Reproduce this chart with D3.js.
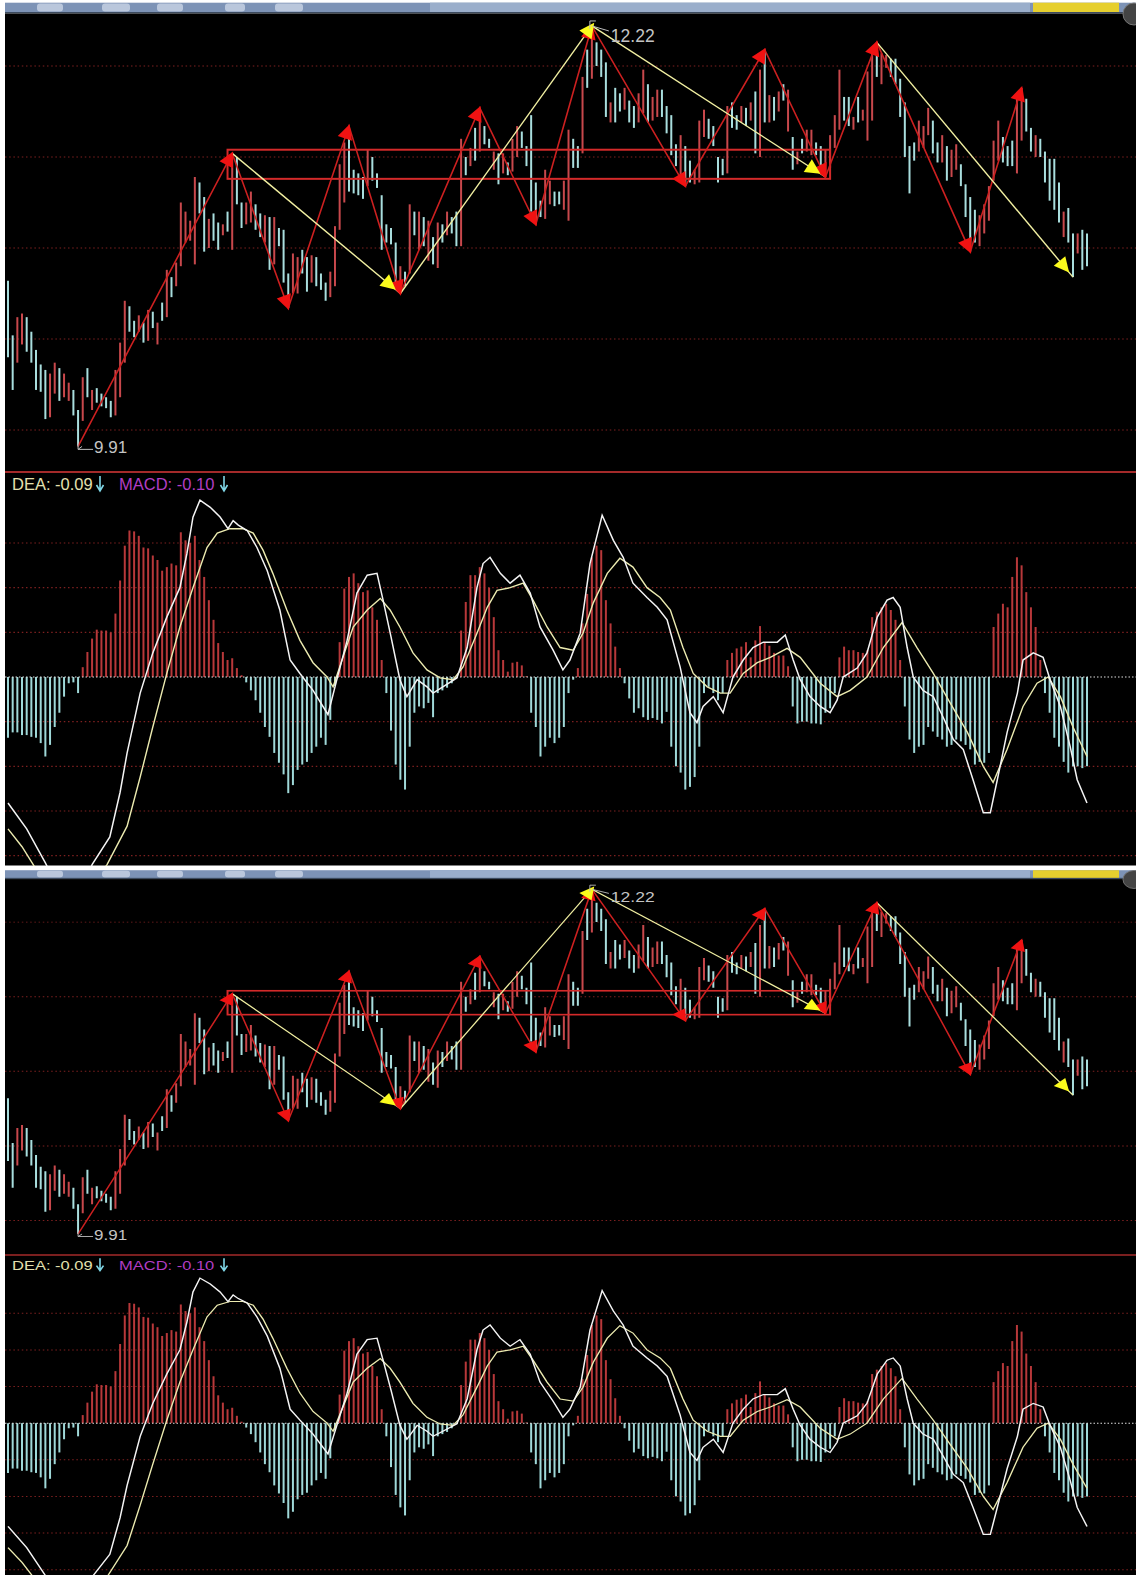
<!DOCTYPE html>
<html>
<head>
<meta charset="utf-8">
<script src="https://cdn.jsdelivr.net/npm/d3@7"></script>
<style>
  body { margin: 0; background: #fff; }
  svg { display: block; }
</style>
</head>
<body>
<svg id="chart" width="1136" height="1575"></svg>
<script>
// price bars: high / low / up(1 = red, 0 = cyan)
const barHigh = [
  10.82,10.52,10.62,10.64,10.62,10.54,10.44,10.36,10.33,10.31,10.37,10.34,10.31,10.26,10.22,10.11,10.29,10.34,10.22,10.23,
  10.20,10.18,10.16,10.33,10.48,10.71,10.68,10.60,10.63,10.59,10.66,10.65,10.59,10.70,10.88,10.84,10.92,11.25,11.20,11.15,
  11.39,11.36,11.28,11.16,11.19,11.14,11.13,11.20,11.52,11.50,11.25,11.25,11.31,11.24,11.19,11.18,11.17,11.17,11.11,11.10,
  10.86,10.97,10.95,10.99,10.95,10.96,10.95,10.86,10.81,10.87,11.12,11.46,11.58,11.67,11.43,11.41,11.39,11.54,11.50,11.41,
  11.29,11.13,11.11,11.03,10.90,10.87,11.24,11.20,11.20,11.17,11.15,11.06,11.14,11.13,11.20,11.17,11.20,11.60,11.50,11.55,
  11.66,11.77,11.67,11.60,11.53,11.52,11.52,11.47,11.60,11.67,11.64,11.56,11.73,11.36,11.26,11.43,11.37,11.31,11.31,11.37,
  11.65,11.60,11.56,11.94,12.09,12.22,12.13,12.09,12.02,11.80,11.88,11.85,11.88,11.81,11.78,11.85,11.98,11.90,11.83,11.87,
  11.87,11.78,11.73,11.57,11.62,11.56,11.48,11.43,11.70,11.76,11.71,11.67,11.50,11.49,11.78,11.80,11.73,11.78,11.77,11.80,
  11.86,11.98,12.09,11.84,11.83,11.86,11.90,11.87,11.61,11.53,11.60,11.65,11.65,11.58,11.56,11.54,11.62,11.73,11.98,11.83,
  11.83,11.72,11.83,11.76,11.97,12.09,12.13,12.07,12.06,12.04,12.04,11.93,11.80,11.56,11.58,11.70,11.67,11.77,11.70,11.58,
  11.62,11.56,11.54,11.57,11.46,11.35,11.28,11.21,11.18,11.24,11.34,11.59,11.70,11.61,11.56,11.59,11.83,11.88,11.82,11.66,
  11.62,11.60,11.53,11.49,11.49,11.36,11.20,11.22,11.08,11.08,11.10,11.08
];
const barLow = [
  10.40,10.22,10.37,10.47,10.43,10.37,10.22,10.21,10.06,10.07,10.20,10.16,10.18,10.16,10.08,9.91,10.05,10.18,10.11,10.15,
  10.13,10.12,10.07,10.08,10.18,10.37,10.54,10.51,10.54,10.48,10.49,10.56,10.47,10.60,10.62,10.73,10.79,10.90,11.03,11.04,
  10.91,11.19,10.98,11.00,11.04,10.99,11.07,11.09,10.99,11.24,11.11,11.13,11.14,11.10,11.06,11.03,10.88,10.91,11.01,10.81,
  10.67,10.75,10.75,10.86,10.76,10.81,10.79,10.77,10.71,10.73,10.79,11.10,11.25,11.31,11.30,11.29,11.27,11.34,11.37,11.33,
  10.99,11.03,11.02,10.79,10.75,10.79,10.86,11.07,10.99,11.01,10.93,10.91,10.89,11.03,11.07,11.08,11.01,11.01,11.40,11.45,
  11.48,11.53,11.57,11.55,11.43,11.35,11.41,11.40,11.42,11.50,11.55,11.45,11.20,11.13,11.17,11.16,11.24,11.23,11.24,11.21,
  11.15,11.44,11.44,11.52,11.88,11.93,12.00,11.94,11.72,11.69,11.69,11.75,11.76,11.69,11.66,11.69,11.74,11.69,11.70,11.72,
  11.72,11.63,11.51,11.45,11.40,11.34,11.36,11.35,11.36,11.61,11.60,11.56,11.36,11.40,11.41,11.66,11.65,11.69,11.67,11.70,
  11.52,11.50,11.69,11.69,11.70,11.75,11.81,11.64,11.43,11.46,11.52,11.53,11.51,11.51,11.45,11.39,11.44,11.55,11.65,11.70,
  11.67,11.65,11.69,11.70,11.59,11.70,11.94,11.90,11.99,11.94,11.90,11.72,11.50,11.30,11.48,11.53,11.55,11.62,11.52,11.47,
  11.47,11.37,11.39,11.43,11.34,11.17,10.98,11.03,11.01,11.08,11.15,11.37,11.48,11.47,11.45,11.45,11.41,11.59,11.64,11.53,
  11.50,11.50,11.36,11.26,11.21,11.14,11.06,11.03,10.84,10.97,10.88,10.90
];
const barUp = [
  0,0,1,1,0,0,0,0,0,1,1,0,1,1,0,0,1,0,1,0,
  0,0,0,1,1,1,0,0,1,0,1,0,1,0,1,0,1,1,1,1,
  1,0,0,1,0,0,1,0,1,0,0,1,1,0,0,1,0,1,0,0,
  0,1,1,0,0,1,0,0,0,1,1,1,1,0,0,0,0,1,0,0,
  0,0,0,0,1,0,1,0,1,0,1,0,1,0,1,0,0,1,0,1,
  0,1,0,0,1,0,1,0,1,1,0,0,0,0,0,1,1,0,0,1,
  1,0,0,1,0,1,0,0,0,1,0,0,1,0,0,1,1,0,1,1,
  0,0,0,0,1,0,0,1,1,1,0,0,0,0,1,0,0,1,0,1,
  0,1,0,1,0,1,0,1,0,1,0,1,1,0,0,1,1,1,1,0,
  0,1,0,1,1,1,0,1,1,0,0,0,0,0,0,1,1,1,0,0,
  1,0,1,1,0,0,0,0,1,1,1,1,1,0,0,0,1,1,0,0,
  1,0,0,0,0,0,1,0,0,1,0,0
];

// MACD histogram per bar
const macdHist = [
  -0.068,-0.062,-0.062,-0.065,-0.065,-0.067,-0.068,-0.074,-0.089,-0.076,-0.056,-0.040,-0.022,-0.007,-0.006,-0.018,
  0.011,0.028,0.043,0.053,0.052,0.052,0.050,0.071,0.108,0.147,0.164,0.163,0.158,0.145,0.144,0.136,0.131,0.119,0.123,
  0.127,0.125,0.162,0.153,0.150,0.158,0.131,0.112,0.086,0.064,0.038,0.028,0.019,0.021,0.010,0.002,
  -0.006,-0.015,-0.026,-0.040,-0.056,-0.067,-0.085,-0.096,-0.109,-0.130,-0.121,-0.104,-0.098,-0.095,-0.085,-0.078,
  -0.068,-0.076,-0.048,-0.010,
  0.039,0.099,0.112,0.116,0.105,0.095,0.097,0.078,0.064,0.019,
  -0.018,-0.060,-0.098,-0.115,-0.126,-0.078,-0.040,-0.033,-0.035,-0.029,-0.045,-0.018,-0.015,-0.012,-0.007,-0.001,
  0.052,0.084,0.114,0.114,0.123,0.116,0.100,0.067,0.030,0.019,0.006,0.016,0.017,0.013,0.001,
  -0.040,-0.056,-0.089,-0.078,-0.068,-0.074,-0.068,-0.056,-0.018,-0.003,
  0.010,0.060,0.093,0.134,0.147,0.142,0.086,0.060,0.034,0.010,
  -0.007,-0.024,-0.040,-0.035,-0.045,-0.048,-0.046,-0.048,-0.052,-0.039,-0.078,-0.100,-0.107,-0.126,-0.123,-0.112,
  -0.078,-0.018,-0.011,-0.018,-0.026,-0.018,
  0.019,0.027,0.032,0.034,0.039,0.022,0.041,0.057,0.039,0.035,0.027,0.024,0.024,0.012,
  -0.033,-0.052,-0.050,-0.050,-0.052,-0.052,-0.053,-0.040,-0.035,-0.018,
  0.022,0.034,0.030,0.030,0.028,0.027,0.030,0.067,0.073,0.078,0.082,0.075,0.064,0.019,
  -0.033,-0.070,-0.085,-0.078,-0.076,-0.056,-0.061,-0.067,-0.070,-0.078,-0.076,-0.070,-0.072,-0.076,-0.081,-0.098,
  -0.095,-0.096,-0.085,
  0.056,0.071,0.082,0.078,0.112,0.134,0.125,0.095,0.078,0.056,0.019,
  -0.018,-0.040,-0.068,-0.078,-0.095,-0.107,-0.100,-0.100,-0.102,-0.100
];

// DIF (white) and DEA (yellow) lines: [bar index, value]
const difLine = [
  [0,-0.141],[4,-0.170],[8,-0.208],[12,-0.250],[16,-0.235],[18,-0.210],[21.8,-0.179],[24,-0.129],[25.5,-0.085],
  [28.3,-0.018],[31,0.027],[34,0.067],[36.8,0.100],[38.3,0.138],[39.6,0.179],[41.1,0.198],[43.3,0.190],[45.4,0.179],
  [47.1,0.166],[48.2,0.175],[49.3,0.170],[51.2,0.164],[53.3,0.145],[55.5,0.119],[58.2,0.075],[60.4,0.019],[62.5,0.004],
  [65.3,-0.015],[68.5,-0.042],[70.4,-0.003],[72.6,0.041],[74.7,0.094],[76.9,0.114],[79,0.116],[80.3,0.086],[82,0.045],
  [83.9,-0.003],[85.4,-0.022],[87.6,-0.003],[89.7,-0.011],[91,-0.018],[93.1,-0.011],[96.1,-0.001],[98.3,0.033],
  [100.4,0.100],[101.7,0.127],[103.2,0.134],[105.4,0.116],[107.5,0.105],[109.6,0.114],[111.8,0.094],[113.9,0.056],
  [116.7,0.030],[118.8,0.008],[120.3,0.019],[122.5,0.049],[124.6,0.127],[127.2,0.181],[129.6,0.153],[131.7,0.134],
  [133.8,0.105],[136.8,0.089],[139,0.078],[141.1,0.064],[143.9,0.011],[146,-0.040],[147.5,-0.051],[148.8,-0.033],
  [151,-0.022],[153.1,-0.040],[155.2,0],[157.4,0.019],[159.5,0.033],[161.7,0.039],[164.7,0.039],[166.4,0.047],
  [168.1,0.019],[169.6,-0.003],[171.7,-0.022],[173.9,-0.033],[176,-0.040],[177.5,-0.026],[178.8,0],[181.8,0.010],
  [183.9,0.027],[186.1,0.067],[188.2,0.086],[189.5,0.089],[191,0.078],[192.5,0.033],[193.8,0],[195.9,-0.015],
  [198.1,-0.022],[200.2,-0.045],[202.4,-0.070],[204.5,-0.081],[206.6,-0.115],[208.8,-0.152],[210.3,-0.152],
  [211.8,-0.115],[213.9,-0.062],[216.1,-0.018],[217.3,0.019],[219.5,0.027],[221.6,0.022],[223.1,-0.003],
  [225.3,-0.033],[227.4,-0.078],[228.9,-0.115],[231,-0.141]
];
const deaLine = [
  [0,-0.170],[3,-0.190],[6,-0.215],[11,-0.250],[17,-0.240],[21.2,-0.210],[25.5,-0.167],[28.3,-0.112],[31,-0.056],
  [34,0.004],[36.8,0.056],[39.6,0.100],[42.6,0.145],[44.8,0.161],[47.5,0.166],[50.3,0.166],[52.5,0.161],[54.6,0.142],
  [56.7,0.116],[59.7,0.075],[62.5,0.041],[65.3,0.016],[68.3,0],[69.6,-0.011],[71.7,0.022],[73.9,0.056],[76.9,0.075],
  [79.7,0.088],[81.8,0.075],[83.9,0.056],[86.7,0.027],[89.7,0.008],[92.5,-0.001],[95.3,-0.003],[97.4,0.011],
  [100.4,0.049],[102.6,0.078],[104.7,0.097],[107.5,0.100],[110.3,0.105],[112.4,0.086],[115.4,0.056],[118.2,0.033],
  [121,0.030],[123.1,0.049],[125.3,0.083],[128.3,0.116],[131,0.133],[133.8,0.123],[136.8,0.100],[139.6,0.089],
  [141.8,0.075],[144.5,0.033],[146.7,0.004],[149.7,-0.011],[152.5,-0.018],[154.6,-0.018],[157.4,0.004],[160.4,0.016],
  [163.2,0.022],[166.8,0.032],[169.6,0.022],[173.9,-0.007],[177.5,-0.022],[180.3,-0.015],[183.9,0],[187.4,0.033],
  [191.4,0.061],[194.6,0.033],[198.1,0.004],[201.7,-0.029],[205.4,-0.062],[208.8,-0.100],[210.9,-0.118],
  [213.9,-0.081],[217.3,-0.033],[220.3,-0.007],[222.7,0],[225.3,-0.022],[228,-0.056],[231,-0.089]
];

// zigzag turning bars (first one is a low, then alternating)
const redTurns = [15, 48, 60, 73, 84, 101, 113, 125, 145, 162, 175, 186, 206, 217];
// yellow legs: [from bar, to bar, direction]
const yellowLegs = [[48, 84, 'down'], [84, 125, 'up'], [125, 175, 'down'], [186, 228, 'down']];
// the box: bar span and price span
const boxBars = [47, 176], boxPrices = [11.54, 11.38];

const priceTicks = [10, 10.5, 11, 11.5, 12];
const macdTicks = [-0.2, -0.15, -0.1, -0.05, 0.05, 0.1, 0.15];
const labelHighBar = 125, labelLowBar = 15;
const headerDEA = '-0.09', headerMACD = '-0.10';

const x = d3.scaleLinear().domain([0, barHigh.length - 1]).range([8, 1087]);
const yP = d3.scaleLinear().domain([10, 12]).range([430, 66]);
const yM = d3.scaleLinear().domain([0, 0.15]).range([677, 543]);

const svg = d3.select('#chart');

function arrowHead(g, x1, y1, x2, y2, fill, back) {
  let a = Math.atan2(y2 - y1, x2 - x1), L = 15, W = 7.5;
  let tx = x2 - Math.cos(a) * back, ty = y2 - Math.sin(a) * back;
  let bx = tx - Math.cos(a) * L, by = ty - Math.sin(a) * L;
  let px = -Math.sin(a) * W, py = Math.cos(a) * W;
  g.append('path')
    .attr('d', `M${tx},${ty}L${bx + px},${by + py}L${bx - px},${by - py}Z`)
    .attr('fill', fill);
}

function drawPanel(root, id) {

  // toolbar strip on top
  root.append('rect').attr('x', 5).attr('y', 2.7).attr('width', 1131).attr('height', 9.5).attr('fill', '#7d93b6');
  root.append('rect').attr('x', 430).attr('y', 2.7).attr('width', 600).attr('height', 9.5).attr('fill', '#9aaecb');
  [[37, 26], [102, 28], [157, 26], [225, 20], [275, 28]].forEach(d => {
    root.append('rect').attr('x', d[0]).attr('y', 3.5).attr('width', d[1]).attr('height', 8).attr('rx', 3)
      .attr('fill', '#c9d5e6').attr('opacity', 0.8);
  });
  root.append('rect').attr('x', 1033).attr('y', 2.7).attr('width', 86).attr('height', 9.5).attr('fill', '#e6cf2e');
  root.append('rect').attr('x', 5).attr('y', 12).attr('width', 1131).attr('height', 1.5).attr('fill', '#3c4a5e');

  // black chart area
  root.append('rect').attr('x', 5).attr('y', 13.5).attr('width', 1131).attr('height', 852).attr('fill', '#000');
  root.append('circle').attr('cx', 1134).attr('cy', 14).attr('r', 11).attr('fill', '#444').attr('stroke', '#777');

  let defs = root.append('defs');
  defs.append('clipPath').attr('id', 'pc' + id).append('rect')
    .attr('x', 5).attr('y', 14).attr('width', 1131).attr('height', 457);
  defs.append('clipPath').attr('id', 'mc' + id).append('rect')
    .attr('x', 5).attr('y', 473).attr('width', 1131).attr('height', 393);

  // ---------- price part ----------
  let pg = root.append('g').attr('clip-path', `url(#pc${id})`);

  pg.selectAll('line.pgrid').data(priceTicks).join('line').attr('class', 'pgrid')
    .attr('x1', 5).attr('x2', 1136).attr('y1', d => yP(d)).attr('y2', d => yP(d))
    .attr('stroke', '#7e2020').attr('stroke-width', 1.2).attr('stroke-dasharray', '1.5,2.7');

  pg.selectAll('line.bar').data(barHigh).join('line').attr('class', 'bar')
    .attr('x1', (d, i) => x(i)).attr('x2', (d, i) => x(i))
    .attr('y1', d => yP(d)).attr('y2', (d, i) => yP(barLow[i]))
    .attr('stroke', (d, i) => barUp[i] ? '#c8484c' : '#a9dede')
    .attr('stroke-width', 2);

  // box
  pg.append('rect')
    .attr('x', x(boxBars[0])).attr('y', yP(boxPrices[0]))
    .attr('width', x(boxBars[1]) - x(boxBars[0])).attr('height', yP(boxPrices[1]) - yP(boxPrices[0]))
    .attr('fill', 'none').attr('stroke', '#d42a2a').attr('stroke-width', 2);

  // red zigzag
  let redPts = redTurns.map((b, k) => [x(b), yP(k % 2 === 0 ? barLow[b] : barHigh[b])]);
  pg.append('path').attr('d', d3.line()(redPts))
    .attr('fill', 'none').attr('stroke', '#cc2020').attr('stroke-width', 1.6);

  // yellow legs
  let yLegs = yellowLegs.map(l => {
    let p0 = l[2] === 'down' ? barHigh[l[0]] : barLow[l[0]];
    let p1 = l[2] === 'down' ? barLow[l[1]] : barHigh[l[1]];
    return [[x(l[0]), yP(p0)], [x(l[1]), yP(p1)]];
  });
  yLegs.forEach(s => {
    pg.append('path').attr('d', d3.line()(s))
      .attr('fill', 'none').attr('stroke', '#f2f0a2').attr('stroke-width', 1.4);
  });

  for (let k = 1; k < redPts.length; k++) {
    arrowHead(pg, redPts[k - 1][0], redPts[k - 1][1], redPts[k][0], redPts[k][1], '#f01212', -2);
  }
  yLegs.forEach((s, k) => arrowHead(pg, s[0][0], s[0][1], s[1][0], s[1][1], '#fbfb1c', k === 1 ? -4 : 6));

  // high / low labels
  let hx = x(labelHighBar), hy = yP(barHigh[labelHighBar]);
  pg.append('path').attr('d', `M${hx - 2},${hy - 5}L${hx - 2},${hy + 3}M${hx - 2},${hy - 5}L${hx + 4},${hy - 5}M${hx},${hy}L${hx + 17},${hy + 5}`)
    .attr('stroke', '#bcbcbc').attr('stroke-width', 1).attr('fill', 'none');
  pg.append('text').attr('x', hx + 19).attr('y', hy + 16).text(barHigh[labelHighBar].toFixed(2))
    .attr('fill', '#c4c4c4').attr('font-family', 'Liberation Sans, Arial, sans-serif').attr('font-size', 17.5);

  let lx = x(labelLowBar), ly = yP(barLow[labelLowBar]);
  pg.append('path').attr('d', `M${lx},${ly - 4}L${lx},${ly + 3}L${lx + 15},${ly + 3}M${lx},${ly + 3}L${lx + 4},${ly}`)
    .attr('stroke', '#bcbcbc').attr('stroke-width', 1).attr('fill', 'none');
  pg.append('text').attr('x', lx + 16).attr('y', ly + 7).text(barLow[labelLowBar].toFixed(2))
    .attr('fill', '#c4c4c4').attr('font-family', 'Liberation Sans, Arial, sans-serif').attr('font-size', 17);

  // divider
  root.append('line').attr('x1', 5).attr('x2', 1136).attr('y1', 472).attr('y2', 472)
    .attr('stroke', '#a42a2a').attr('stroke-width', 2);

  // ---------- MACD part ----------
  let mg = root.append('g').attr('clip-path', `url(#mc${id})`);

  mg.selectAll('line.mgrid').data(macdTicks).join('line').attr('class', 'mgrid')
    .attr('x1', 5).attr('x2', 1136).attr('y1', d => yM(d)).attr('y2', d => yM(d))
    .attr('stroke', '#7e2020').attr('stroke-width', 1.2).attr('stroke-dasharray', '1.5,2.7');

  mg.selectAll('line.hist').data(macdHist).join('line').attr('class', 'hist')
    .attr('x1', (d, i) => x(i)).attr('x2', (d, i) => x(i))
    .attr('y1', yM(0)).attr('y2', d => yM(d))
    .attr('stroke', d => d >= 0 ? '#b8383a' : '#9fd8d8')
    .attr('stroke-width', 2);

  mg.append('line').attr('x1', 5).attr('x2', 1136).attr('y1', yM(0)).attr('y2', yM(0))
    .attr('stroke', '#e0e0e0').attr('stroke-width', 1.2).attr('stroke-dasharray', '1.5,2');

  let ml = d3.line().x(d => x(d[0])).y(d => yM(d[1]));
  mg.append('path').attr('d', ml(deaLine)).attr('fill', 'none').attr('stroke', '#ecebb0').attr('stroke-width', 1.4);
  mg.append('path').attr('d', ml(difLine)).attr('fill', 'none').attr('stroke', '#f4f4f4').attr('stroke-width', 1.5);

  // header
  let hg = root.append('g').attr('font-family', 'Liberation Sans, Arial, sans-serif').attr('font-size', 16.5);
  hg.append('text').attr('x', 12).attr('y', 490).attr('fill', '#e4e0b0').text('DEA: ' + headerDEA);
  hg.append('text').attr('x', 119).attr('y', 490).attr('fill', '#b23ec4').text('MACD: ' + headerMACD);
  [100, 224].forEach(ax => {
    hg.append('path').attr('d', `M${ax},476L${ax},490M${ax - 3.5},485L${ax},491L${ax + 3.5},485`)
      .attr('stroke', '#7fd6e6').attr('stroke-width', 1.6).attr('fill', 'none');
  });
}

drawPanel(svg.append('g'), 'a');
drawPanel(svg.append('g').attr('transform', 'translate(0,868) scale(1,0.82)'), 'b');
</script>
</body>
</html>
